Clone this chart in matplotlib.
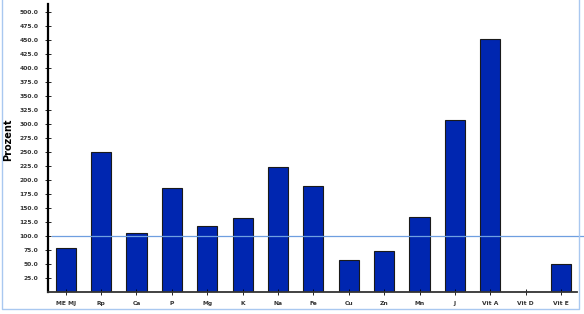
import matplotlib.pyplot as plt
from matplotlib.lines import Line2D

categories = ["ME MJ", "Rp", "Ca", "P", "Mg", "K", "Na", "Fe", "Cu", "Zn", "Mn", "J", "Vit A", "Vit D", "Vit E"]
values = [78, 250, 104, 185, 117, 131, 223, 189, 56, 72, 133, 307, 452, 0, 49]
yticks = [25 * i for i in range(1, 21)]
reference = 100

fig = plt.figure(figsize=(5.84, 3.14), dpi=100)
ax = fig.add_axes([48 / 584, 1 - 291.5 / 314, (577 - 48) / 584, (291.5 - 4) / 314])

x = list(range(len(categories)))
ax.bar(x, values, width=0.57, color="#0026b0", edgecolor="#1a1a1a", linewidth=0.8)
ax.axhline(reference, xmin=0.007, xmax=1.02, color="#6f9fe0", linewidth=0.9, clip_on=False)

ax.set_xlim(-0.5, 14.45)
ax.set_ylim(0, 515)
ax.set_xticks(x)
ax.set_xticklabels(categories, fontsize=4.3, fontweight="bold", color="#333333")
ax.set_yticks(yticks)
ax.set_yticklabels(["%.1f" % v for v in yticks], fontsize=4.3, fontweight="bold", color="#333333")
ax.tick_params(axis="both", direction="inout", length=4, width=0.6, pad=5)
for side in ["top", "right"]:
    ax.spines[side].set_visible(False)
ax.spines["left"].set_linewidth(1.6)
ax.spines["bottom"].set_linewidth(1.3)
ax.spines["bottom"].set_color("#333333")

fig.text(8 / 584, 1 - 140 / 314, "Prozent", rotation=90, fontsize=7, fontweight="bold",
         ha="center", va="center")

# light blue frame on left, bottom and right only
fx = [2 / 584, 2 / 584, 579 / 584, 579 / 584]
fy = [1.0, 1 - 308.5 / 314, 1 - 308.5 / 314, 1.0]
fig.lines.append(Line2D(fx, fy, transform=fig.transFigure, color="#a9c8f0", linewidth=1.0))

fig.savefig("out.png", dpi=100)
